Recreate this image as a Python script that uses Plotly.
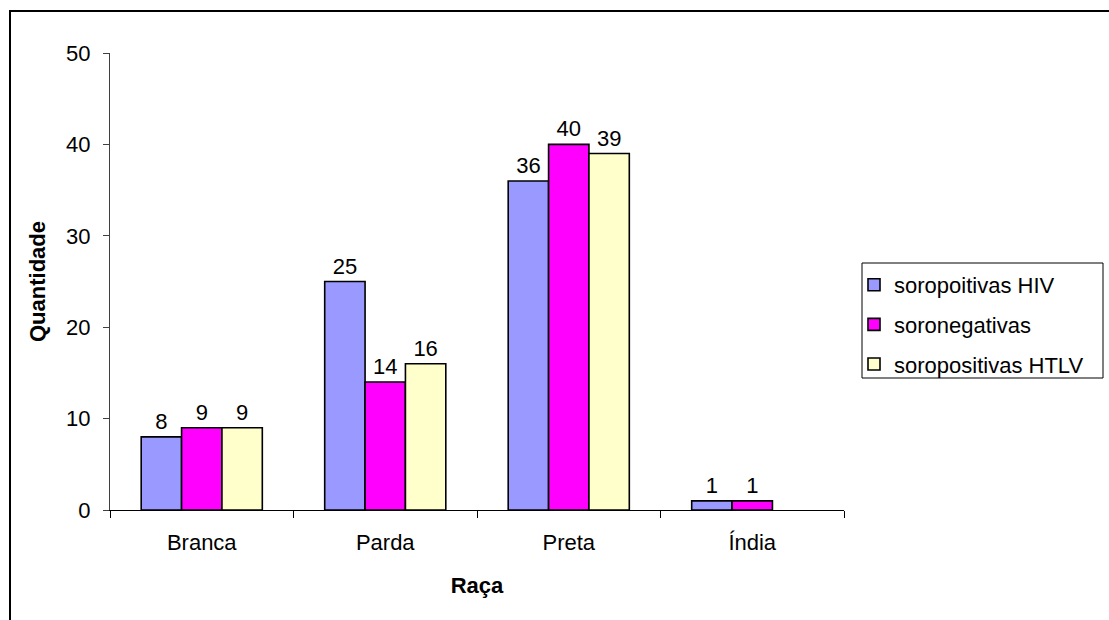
import plotly.graph_objects as go

# Categorias e séries
racas = ["Branca", "Parda", "Preta", "Índia"]
hiv = [8, 25, 36, 1]
soroneg = [9, 14, 40, 1]
htlv = [9, 16, 39, None]

series_names = ["soropoitivas HIV", "soronegativas", "soropositivas HTLV"]
series_values = [hiv, soroneg, htlv]
series_colors = ["#9999FF", "#FF00FF", "#FFFFCC"]

y_ticks = [0, 10, 20, 30, 40, 50]

FONT = "Liberation Sans, Arial, sans-serif"

W, H = 1109, 620
L, R, T, B = 110, 265, 53, 110
pw, ph = W - L - R, H - T - B


def px_x(px):
    return (px - L) / pw


def px_y(py):
    return (H - B - py) / ph


fig = go.Figure()
for i, (name, vals, col) in enumerate(zip(series_names, series_values, series_colors)):
    fig.add_trace(go.Bar(
        x=racas, y=vals, name=name,
        marker=dict(color=col, line=dict(color="black", width=1.6)),
        text=[("" if v is None else str(v)) for v in vals],
        textposition="outside",
        textfont=dict(family=FONT, size=22, color="black"),
        constraintext="none",
        cliponaxis=False,
        legendgroup=f"g{i}",
    ))

fig.update_layout(
    width=W, height=H,
    margin=dict(l=L, r=R, t=T, b=B, pad=0),
    paper_bgcolor="white", plot_bgcolor="white",
    font=dict(family=FONT, size=22, color="black"),
    barmode="group", bargap=0.34, bargroupgap=0,
    showlegend=True,
    legend=dict(
        x=px_x(854), y=px_y(264), xanchor="left", yanchor="top",
        font=dict(family=FONT, size=22, color="black"),
        bgcolor="rgba(0,0,0,0)", borderwidth=0,
        tracegroupgap=8, itemwidth=30,
    ),
    xaxis=dict(
        type="category", showgrid=False, zeroline=False,
        showline=True, linecolor="black", linewidth=1.4,
        ticks="outside", ticklen=7, tickcolor="black", tickwidth=1.4,
        tickson="boundaries", ticklabelstandoff=12,
        tickfont=dict(family=FONT, size=22),
        title=dict(text="<b>Raça</b>", font=dict(family=FONT, size=22), standoff=24),
    ),
    yaxis=dict(
        range=[0, 50], tickvals=y_ticks, showgrid=False, zeroline=False,
        showline=True, linecolor="#404040", linewidth=1.4,
        ticks="outside", ticklen=6, tickcolor="#404040", tickwidth=1.4,
        ticklabelstandoff=8,
        tickfont=dict(family=FONT, size=22),
        title=dict(text="<b>Quantidade</b>", font=dict(family=FONT, size=22), standoff=14),
    ),
    shapes=[
        # moldura externa do gráfico
        dict(type="rect", xref="paper", yref="paper",
             x0=px_x(10), x1=px_x(1130), y0=px_y(640), y1=px_y(11),
             line=dict(color="black", width=2), fillcolor="rgba(0,0,0,0)"),
        # caixa da legenda
        dict(type="rect", xref="paper", yref="paper",
             x0=px_x(862), x1=px_x(1103), y0=px_y(378), y1=px_y(263),
             line=dict(color="black", width=1), fillcolor="rgba(0,0,0,0)"),
    ],
)

fig.write_html("out.html")
